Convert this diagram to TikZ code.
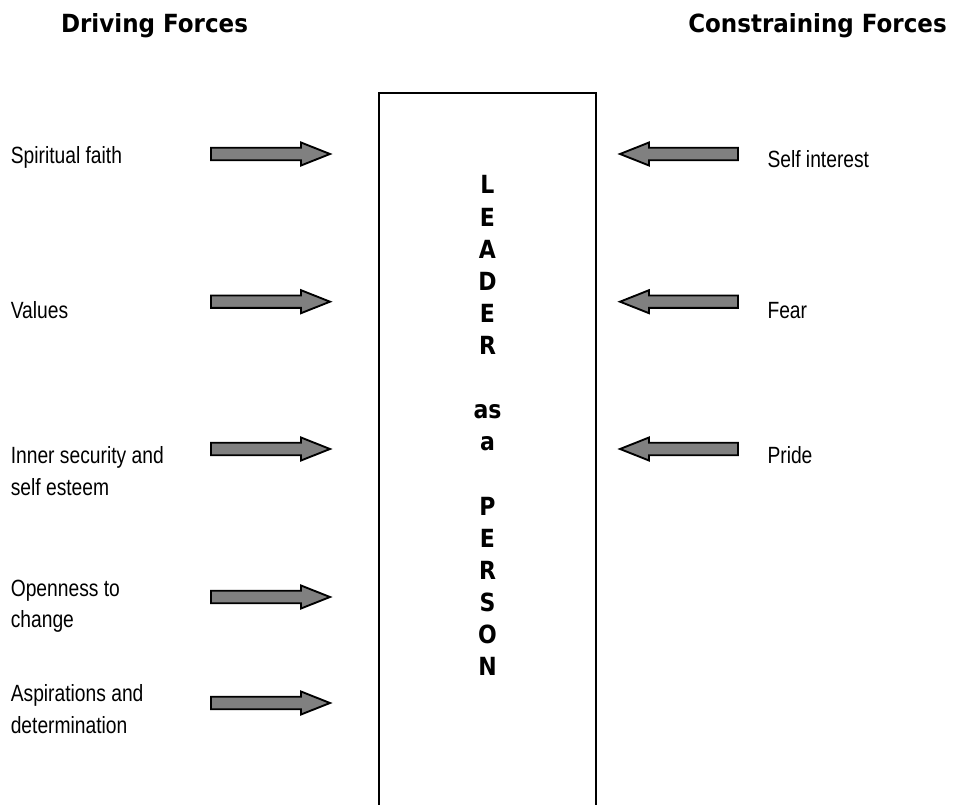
\documentclass[tikz,border=0pt]{standalone}
\usepackage{fontspec}
\setmainfont{Liberation Sans}
\newfontfamily\narrowfont[FakeStretch=0.82]{Liberation Sans}
\newfontfamily\titlefont[FakeStretch=0.92]{DejaVu Sans}
\newfontfamily\boxfont[FakeStretch=0.88]{DejaVu Sans}
\definecolor{arrowgray}{HTML}{808080}
\tikzset{
  blockarrow/.style={draw=black, fill=arrowgray, line width=1.4pt, line join=miter},
  pics/drivearrow/.style={code={
    \draw[blockarrow] (0,-6.2) -- (90,-6.2) -- (90,-11.5) -- (119,0) -- (90,11.5) -- (90,6.2) -- (0,6.2) -- cycle;}},
  pics/resistarrow/.style={code={
    \draw[blockarrow] (0,-6.2) -- (-89,-6.2) -- (-89,-11.5) -- (-118,0) -- (-89,11.5) -- (-89,6.2) -- (0,6.2) -- cycle;}},
}
\begin{document}
\begin{tikzpicture}[x=0.75pt,y=-0.75pt,
  every node/.style={inner sep=0pt, outer sep=0pt},
  titletext/.style={font=\titlefont\bfseries\fontsize{18.75}{22}\selectfont, anchor=base},
  lbl/.style={font=\narrowfont\fontsize{17.6}{23.8}\selectfont, anchor=base west},
  leadertext/.style={font=\boxfont\bfseries\fontsize{18.75}{24.08}\selectfont, anchor=base},
  boxline/.style={draw=black, line width=1.5pt}]
\useasboundingbox (0,0) rectangle (959,805);

% titles
\node[titletext] (drv) at (154.5,33) {Driving Forces};
\node[titletext] (cns) at (817.5,33) {Constraining Forces};

% central box (open at the bottom)
\coordinate (bl) at (379,806);
\coordinate (tl) at (379,93);
\coordinate (tr) at (596,93);
\coordinate (br) at (596,806);
\draw[boxline] (bl) -- (tl) -- (tr) -- (br);

\node[leadertext] (leader) at (487.5,194) {\begin{tabular}[t]{@{}c@{}}L\\E\\A\\D\\E\\R\\ \\as\\a\\ \\P\\E\\R\\S\\O\\N\end{tabular}};

% driving forces
\node[lbl] (l1) at (10.8,163.3) {Spiritual faith};
\node[lbl] (l2) at (10.8,318.3) {Values};
\node[lbl] (l3) at (10.8,463.3) {\begin{tabular}[t]{@{}l@{}}Inner security and\\self esteem\end{tabular}};
\node[lbl] (l4) at (10.8,596) {\begin{tabular}[t]{@{}l@{}}Openness to\\change\end{tabular}};
\node[lbl] (l5) at (10.8,701.7) {\begin{tabular}[t]{@{}l@{}}Aspirations and\\determination\end{tabular}};

\pic at (211,154) {drivearrow};
\pic at (211,301.7) {drivearrow};
\pic at (211,449) {drivearrow};
\pic at (211,597) {drivearrow};
\pic at (211,703) {drivearrow};

% constraining forces
\node[lbl] (r1) at (767.5,167.4) {Self interest};
\node[lbl] (r2) at (767.5,319) {Fear};
\node[lbl] (r3) at (767.5,463.3) {Pride};

\pic at (738,154) {resistarrow};
\pic at (738,301.7) {resistarrow};
\pic at (738,449) {resistarrow};
\end{tikzpicture}
\end{document}
